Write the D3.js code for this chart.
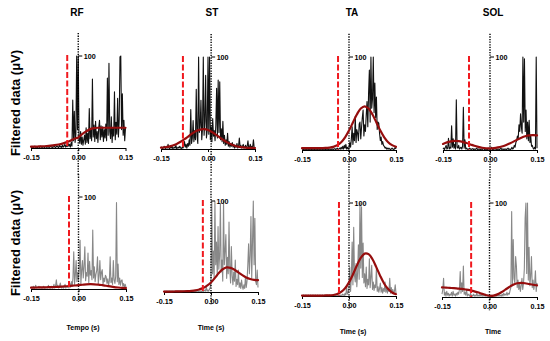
<!DOCTYPE html>
<html><head><meta charset="utf-8">
<script src="https://cdn.jsdelivr.net/npm/d3@7"></script>
<style>
html,body{margin:0;padding:0;background:#fff;}
svg{display:block;}
text{font-family:"Liberation Sans",Arial,Helvetica,sans-serif;font-weight:bold;fill:#000;}
</style>
</head><body>
<svg id="c" width="550" height="341"></svg>
<script>
// ---------------- DATA ----------------
const muscles = ["RF", "ST", "TA", "SOL"];
const xTitles = ["Tempo (s)", "Time (s)", "Time (s)", "Time"];
const yTitle = "Filtered data (\u03bcV)";
const xTicks = [-0.15, 0, 0.15];
const xTickLabels = ["-0.15", "0.00", "0.15"];
const yTickValue = 100;
const yTickLabel = "100";
const timeStart = -0.15, traceStep = 0.0025, fitStep = 0.0125;

// onset (red dashed) times
const onsetTop = [-0.035, -0.08, -0.035, -0.067];
const onsetBottom = [-0.03, -0.026, -0.032, -0.058];
// zero reference (dotted) times
const zeroTop = [0, 0.01, 0, 0];
const zeroBottom = [0, 0, 0, 0];

// rectified EMG traces (µV), 121 samples from -0.15 s to 0.15 s
const traceRFtop = [
 1,0.5,1.5,0.5,1,2,0.5,1,0.5,1.5,
 1,0.5,2,1,0.5,1,1.5,0.5,1,2,
 0.5,1,1.5,0.5,1,2,1,0.5,1.5,1,
 2,0.5,1,2.5,1,0.5,3,1,2,0.5,
 3,1,2,4,1,3,1.5,5,2,4,
 1,6,2,52,8,40,6,15,100,20,
 100,10,5,18,4,12,3,9,14,4,
 22,6,16,5,43,10,20,8,75,12,
 25,7,29,10,18,6,22,30,9,24,
 12,23,7,20,11,26,8,76,14,92,
 18,10,34,6,22,13,61,9,28,15,
 54,12,30,99,100,20,59,14,30,8,
 22];
const traceSTtop = [
 1,2,0.5,1,3,1,0.5,2,1,5,
 1,0.5,2,1,3,0.5,1,2,1,4,
 0.5,1,2,1,3,1,0.5,2,1,3,
 8,2,5,1,6,3,10,4,43,6,
 12,31,8,20,10,65,14,6,100,18,
 25,53,10,22,100,15,30,80,12,20,
 100,16,100,10,24,8,33,14,20,9,
 26,66,12,75,18,73,10,22,8,30,
 6,15,4,10,5,17,3,8,2,6,
 3,7,2,5,1,4,2,6,1,3,
 12,2,4,1,3,5,1,2,4,1,
 3,9,1,2,5,1,3,2,10,1,
 2];
const traceTAtop = [
 0.5,1,0.5,1,0.5,1,0.5,1,0.5,1,
 0.5,1,0.5,1,0.5,1,0.5,1,0.5,1,
 0.5,1,0.5,1,0.5,1,0.5,1,0.5,1,
 0.5,1,0.5,1,0.5,1,0.5,1,0.5,1,
 0.5,1,1.5,0.5,1,2,0.5,1,2,1,
 3,1,4,1,5,2,6,1,3,1,
 2,8,3,12,25,6,18,10,36,8,
 22,18,10,28,30,12,24,35,43,15,
 27,20,38,52,25,61,86,30,100,45,
 55,100,40,72,35,57,22,30,29,18,
 10,14,6,9,5,4,2,3,1,2,
 1,2,1,0.5,1,2,1,0.5,1,3,
 1];
const traceSOLtop = [
 1,2,0.5,3,5,1,2,12.6,1,3,
 2,26,3,12,2,6,1,54,3,2,
 5,1,2,3,1,4,46,2,11,1,
 2,1,0.5,1,2,1,0.5,1,1.5,0.5,
 1,0.5,1,2,0.5,1,0.5,1,0.5,1,
 0.5,1,2,0.5,1,0.5,1,0.5,1,2,
 0.5,1,3,0.5,1,0.5,2,1,0.5,1,
 0.5,1,0.5,1,2,0.5,1,0.5,1,0.5,
 1,0.5,1,2,0.5,1,0.5,1,3,1,
 2,5,3,8,10,15,12,27,20,39,
 25,18,100,30,98,20,43,12,30,10,
 32,8,15,4,5,2,1,3,1,100,
 2];
const traceRFbottom = [
 1,2,1,3,1,2,4,1,2,1,
 3,1,2,1,2,1,3,1,2,1,
 2,1,4,1,2,1,3,1,2,5,
 1,3,10,2,4,1,3,6.5,2,1,
 3,1,2,5,1,3,2,4,1,6,
 2,8,3,12,40.5,5,15,31,8,18,
 10,22,53,6,20,31,12,25,46,9,
 18,14,39,7,30,15,20,10,64,12,
 24,8,16,20,35,6,14,31,10,18,
 21,5,12,8,15,13,6,11,4,9,
 35,7,12,5,31,10,6,14,94,8,
 27,5,12,4,9,10,3,6,2,5,
 2];
const traceSTbottom = [
 0.5,1,0.5,1,0.5,1,0.5,1,0.5,1,
 0.5,1,0.5,1,0.5,1,0.5,1,0.5,1,
 0.5,1,0.5,1,0.5,1,0.5,1,0.5,1,
 0.5,1,0.5,1,0.5,1,0.5,1,0.5,1,
 0.5,1,0.5,1,0.5,1,0.5,1,0.5,1,
 0.5,1,2,1,6,1,2,1,3,5,
 12,100,20,45,15,100,30,55,18,72,
 25,40,97,22,35,12,100,30,45,63,
 15,38,20,77,25,10,50,18,8,22,
 12,35,6,14,8,24,5,10,4,13,
 6,3,8,4,17,5,12,30,53,20,
 40,83,15,55,100,30,81,12,8,24,
 5];
const traceTAbottom = [
 0.5,0.5,1,0.5,0.5,1,0.5,0.5,1,0.5,
 0.5,1,0.5,0.5,1,0.5,0.5,1,0.5,0.5,
 1,0.5,0.5,1,0.5,0.5,1,0.5,0.5,1,
 0.5,0.5,1,0.5,0.5,1,0.5,0.5,1,0.5,
 0.5,1,0.5,0.5,1,0.5,1,0.5,1,0.5,
 1,0.5,2,1,0.5,3,1,10,2,4,
 8,31,5,20,58,12,74,22,15,35,
 10,25,55,18,100,30,96,20,57,14,
 24,10,31,8,18,12,40,9,20,33,
 7,15,6,12,9,30,5,10,4,8,
 14,4,9,3,8,5,15,4,10,3,
 8,5,19,3,9,4,7,3,5,12,
 3];
const traceSOLbottom = [
 3,8,20,2,5,1,6,2,4,1,
 3,2,5,1,6,2,3,1,4,2,
 5,3,8,27,4,15,6,33,3,5,
 2,8,1,3,2,1,4,1,2,1,
 3,1,2,1,4,1,2,1,3,1,
 2,1,1.5,1,2,1,1.5,1,2,1,
 1.5,1,2,1,1.5,1,2,1,1.5,1,
 2,1,3,1,2,1,3,1,4,2,
 3,2,5,2,4,3,7,10,91,12,
 61,20,15,43,33,10,18,8,14,6,
 12,20,8,15,30,84,100,25,100,18,
 53,12,22,43,10,18,8,14,28,6,
 15];

// fitted curves, 25 points from -0.15 s to 0.15 s
const fitRFtop = [1.4,1.5,1.7,1.9,2.2,2.6,3.1,3.8,4.8,6.3,8.0,10.0,11.5,15.0,18.0,20.5,21.6,22,22,22,22,22,22,22,22];
const fitSTtop = [1.5,1.9,2.6,3.8,5.5,7.9,10.7,13.8,16.9,19.5,21.1,21.5,20.6,18.5,15.7,12.5,9.5,6.9,4.8,3.3,2.3,1.7,1.3,1.2,1.1];
const fitTAtop = [2,2,2,2,2,2.1,2.2,2.6,3.4,5.2,8.4,13.7,20.9,29.6,38.2,44.6,47,44.6,38.2,29.6,20.9,13.7,8.4,5.2,3.4];
const fitSOLtop = [6.5,8.2,9.3,9.8,9.6,8.8,7.5,6.0,4.5,3.3,2.4,1.9,1.8,2.1,2.8,3.8,5.2,7.0,9.0,11.2,13.2,14.8,15.8,16.0,15.7];
const fitRFbottom = [1.5,1.6,1.7,1.8,1.9,2.0,2.2,2.4,2.7,3.0,3.4,3.8,4.2,4.6,5.0,5.2,5.1,4.8,4.2,3.5,2.8,2.1,1.6,1.2,1.0];
const fitSTbottom = [0.5,0.5,0.5,0.6,0.7,0.8,1.0,1.3,1.8,2.8,4.3,7.0,10.5,15.5,21.0,25.0,27.0,26.5,24.5,21.5,18.5,16.0,14.3,13.4,13.0];
const fitTAbottom = [0.5,0.5,0.5,0.5,0.5,0.5,0.6,0.7,1.1,2.2,4.4,8.3,14.6,23.2,32.7,41.0,45.6,45.0,39.5,30.8,21.3,13.2,7.4,3.8,1.9];
const fitSOLbottom = [10.3,10.0,9.7,9.4,9.0,8.6,8.0,7.3,6.3,5.0,3.6,2.2,1.3,1.4,2.8,5.0,7.8,10.6,13.0,14.6,15.0,14.6,13.8,13.0,12.4];

// ---------------- LAYOUT ----------------
const layoutTop = [
  {x0:31, x1:125.5, base:148, top:56},
  {x0:161, x1:255, base:149, top:57},
  {x0:302, x1:396, base:150, top:57},
  {x0:443, x1:537, base:150, top:57}
];
const layoutBottom = [
  {x0:31, x1:126, base:289, top:197},
  {x0:164, x1:258, base:292, top:201},
  {x0:302, x1:396, base:296, top:203},
  {x0:442, x1:537, base:297, top:203}
];
const titleX = [77, 212, 352, 493];
const xTitlePos = [[83,330],[211,330],[353,334],[493,334]];
const yTitleY = [103, 243];

const svg = d3.select("#c");

const panels = [
  {L:layoutTop[0], trace:traceRFtop, fit:fitRFtop, onset:onsetTop[0], zero:zeroTop[0], row:0},
  {L:layoutTop[1], trace:traceSTtop, fit:fitSTtop, onset:onsetTop[1], zero:zeroTop[1], row:0},
  {L:layoutTop[2], trace:traceTAtop, fit:fitTAtop, onset:onsetTop[2], zero:zeroTop[2], row:0},
  {L:layoutTop[3], trace:traceSOLtop, fit:fitSOLtop, onset:onsetTop[3], zero:zeroTop[3], row:0},
  {L:layoutBottom[0], trace:traceRFbottom, fit:fitRFbottom, onset:onsetBottom[0], zero:zeroBottom[0], row:1},
  {L:layoutBottom[1], trace:traceSTbottom, fit:fitSTbottom, onset:onsetBottom[1], zero:zeroBottom[1], row:1},
  {L:layoutBottom[2], trace:traceTAbottom, fit:fitTAbottom, onset:onsetBottom[2], zero:zeroBottom[2], row:1},
  {L:layoutBottom[3], trace:traceSOLbottom, fit:fitSOLbottom, onset:onsetBottom[3], zero:zeroBottom[3], row:1}
];

panels.forEach(p => {
  const L = p.L;
  const g = svg.append("g");
  const x = d3.scaleLinear().domain([-0.15, 0.15]).range([L.x0, L.x1]);
  const y = d3.scaleLinear().domain([0, 100]).range([L.base, L.top]);

  // x axis
  const ax = g.append("g").attr("transform", `translate(0,${L.base})`)
    .call(d3.axisBottom(x).tickValues(xTicks)
      .tickFormat((d, i) => xTickLabels[i]).tickSize(3).tickSizeOuter(0).tickPadding(4));
  ax.select(".domain").attr("stroke", "#000").attr("stroke-width", 1.1);
  ax.selectAll(".tick line").attr("stroke", "#000").attr("stroke-width", 1);
  ax.selectAll("text").attr("font-size", 7.2).attr("font-family", null).attr("fill", "#000");

  // trace
  const traceLine = d3.line()
    .x((d, i) => x(timeStart + i * traceStep))
    .y(d => y(d));
  g.append("path").datum(p.trace)
    .attr("d", traceLine)
    .attr("fill", "none")
    .attr("stroke", p.row === 0 ? "#111" : "#888")
    .attr("stroke-width", 1.1)
    .attr("stroke-linejoin", "round");

  // dotted zero line
  g.append("line")
    .attr("x1", x(p.zero)).attr("x2", x(p.zero))
    .attr("y1", y(125)).attr("y2", y(p.row === 0 ? -30 : -14))
    .attr("stroke", "#000").attr("stroke-width", 1.4)
    .attr("stroke-dasharray", "1.3,1.3");

  // y tick 100
  g.append("line")
    .attr("x1", x(p.zero)).attr("x2", x(p.zero) + 4)
    .attr("y1", y(yTickValue)).attr("y2", y(yTickValue))
    .attr("stroke", "#000").attr("stroke-width", 1);
  g.append("text")
    .attr("x", x(p.zero) + 5.5).attr("y", y(yTickValue) + 2.5)
    .attr("font-size", 7.2).text(yTickLabel);

  // fitted curve
  const fitLine = d3.line()
    .x((d, i) => x(timeStart + i * fitStep))
    .y(d => y(d))
    .curve(d3.curveCatmullRom.alpha(0.5));
  g.append("path").datum(p.fit)
    .attr("d", fitLine)
    .attr("fill", "none")
    .attr("stroke", "#960d0d")
    .attr("stroke-width", 2.2)
    .attr("stroke-linecap", "round");

  // onset red dashed line
  g.append("line")
    .attr("x1", x(p.onset)).attr("x2", x(p.onset))
    .attr("y1", y(101)).attr("y2", y(0))
    .attr("stroke", "#f0191e").attr("stroke-width", 2)
    .attr("stroke-dasharray", "6,2.5");
});

// column titles
muscles.forEach((m, i) => {
  svg.append("text").attr("x", titleX[i]).attr("y", 16)
    .attr("text-anchor", "middle").attr("font-size", 10).text(m);
});
// x titles
xTitles.forEach((t, i) => {
  svg.append("text").attr("x", xTitlePos[i][0]).attr("y", xTitlePos[i][1])
    .attr("text-anchor", "middle").attr("font-size", 7).text(t);
});
// y titles
yTitleY.forEach(yy => {
  svg.append("text")
    .attr("transform", `translate(20,${yy}) rotate(-90)`)
    .attr("text-anchor", "middle").attr("font-size", 13).text(yTitle);
});
</script>
</body></html>
